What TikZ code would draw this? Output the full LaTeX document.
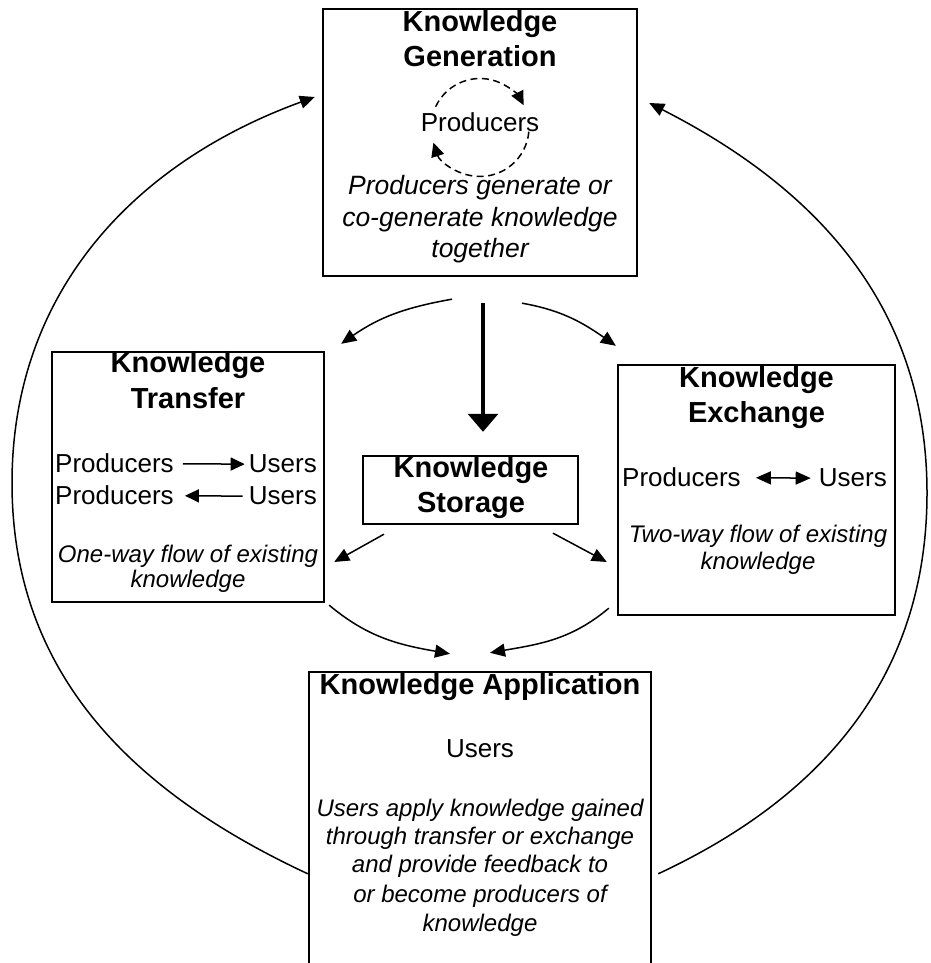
\documentclass[tikz,border=0pt]{standalone}
\usepackage{fontspec}
\setmainfont{Liberation Sans}
\usetikzlibrary{arrows.meta,calc}
\begin{document}
\begin{tikzpicture}[x=1pt,y=1pt,
  box/.style={draw, line width=2.4pt, inner sep=0pt},
  ttl/.style={anchor=base, inner sep=0pt, font=\fontsize{29}{35}\selectfont\bfseries},
  reg/.style={anchor=base, inner sep=0pt, font=\fontsize{26}{31}\selectfont},
  regw/.style={anchor=base west, inner sep=0pt, font=\fontsize{26}{31}\selectfont},
  rege/.style={anchor=base east, inner sep=0pt, font=\fontsize{26}{31}\selectfont},
  itl/.style={anchor=base, inner sep=0pt, font=\fontsize{24}{29}\selectfont\itshape},
  itg/.style={anchor=base, inner sep=0pt, font=\fontsize{26.5}{31.5}\selectfont\itshape},
  con/.style={line width=1.5pt, -{Triangle[length=15pt,width=13pt]}},
  small/.style={line width=1.5pt, -{Triangle[length=14pt,width=13pt]}},
]
\useasboundingbox (0,0) rectangle (930,963);
\fill[white] (0,0) rectangle (930,963);

% boxes
\node[box, minimum width=314pt, minimum height=267pt] (gen) at (480,820.5) {};
\node[box, minimum width=272pt, minimum height=250pt] (tra) at (188,486) {};
\node[box, minimum width=277pt, minimum height=250pt] (exc) at (756.5,473) {};
\node[box, minimum width=215pt, minimum height=68pt] (sto) at (470.5,473) {};
\node[box, minimum width=342pt, minimum height=306pt] (app) at (480,138) {};

% generation texts
\node[ttl] (g1) at (480,931) {Knowledge};
\node[ttl] (g2) at (480,896) {Generation};
\node[reg] (gp) at (480,831) {Producers};
\coordinate (gc) at (480,835.5);
\node[itg] (gi1) at (480,768) {Producers generate or};
\node[itg] (gi2) at (480,736.5) {co-generate knowledge};
\node[itg] (gi3) at (480,705) {together};
\draw[line width=1.5pt, dash pattern=on 7pt off 4.5pt, -{Triangle[length=14pt,width=13pt]}]
  ([shift={(155:49)}]gc) arc[start angle=155, end angle=27, radius=49];
\draw[line width=1.5pt, dash pattern=on 7pt off 4.5pt, -{Triangle[length=14pt,width=13pt]}]
  ([shift={(-5:49)}]gc) arc[start angle=-5, end angle=-162, radius=49];

% transfer texts
\node[ttl] (t1) at (188,590) {Knowledge};
\node[ttl] (t2) at (188,554) {Transfer};
\node[regw] (tp1) at (55,490) {Producers};
\node[rege] (tu1) at (317,490) {Users};
\node[regw] (tp2) at (55,458) {Producers};
\node[rege] (tu2) at (317,458) {Users};
\draw[small, shorten <=9pt, shorten >=4pt] (tp1.east) -- (tu1.west);
\draw[small, shorten <=6pt, shorten >=11pt] (tu2.west) -- (tp2.east);
\node[itl] (ti1) at (188,400) {One-way flow of existing};
\node[itl] (ti2) at (188,375) {knowledge};

% exchange texts
\node[ttl] (e1) at (756.5,575) {Knowledge};
\node[ttl] (e2) at (756.5,540) {Exchange};
\node[regw] (ep) at (622,476) {Producers};
\node[rege] (eu) at (887,476) {Users};
\draw[line width=1.5pt, {Triangle[length=15pt,width=13pt]}-{Triangle[length=15pt,width=13pt]}, shorten <=15pt, shorten >=8pt] (ep.east) -- (eu.west);
\node[itl] (ei1) at (758,420) {Two-way flow of existing};
\node[itl] (ei2) at (758,393) {knowledge};

% storage texts
\node[ttl] (s1) at (471,485) {Knowledge};
\node[ttl] (s2) at (471,450) {Storage};

% application texts
\node[ttl] (a1) at (480,268) {Knowledge Application};
\node[reg] (au) at (480,205) {Users};
\node[itl] (ai1) at (480,146) {Users apply knowledge gained};
\node[itl] (ai2) at (480,118) {through transfer or exchange};
\node[itl] (ai3) at (480,90) {and provide feedback to};
\node[itl] (ai4) at (480,60.5) {or become producers of};
\node[itl] (ai5) at (480,31) {knowledge};

% connectors
\draw[line width=3.2pt, -{Triangle[length=18pt,width=30pt]}]
  ($(gen.south)+(3,-26)$) -- ($(sto.north)+(12.5,23)$);
\draw[con] ($(gen.south)+(-28,-22)$) to[out=190,in=35] ($(tra.north east)+(16,7)$);
\draw[con] ($(gen.south)+(42,-26)$) to[out=-10,in=145] ($(exc.north west)+(-1,18)$);
\draw[con] ($(sto.south)+(-86.5,-9)$) -- ($(tra.east)+(9,-85)$);
\draw[con] ($(sto.south)+(82.5,-8)$) -- ($(exc.west)+(-10,-72)$);
\draw[con] ($(tra.south east)+(4,-2)$) to[out=-40,in=170] ($(app.north)+(-30,17)$);
\draw[con] ($(exc.south west)+(-8,8)$) to[out=220,in=10] ($(app.north)+(10,18)$);

\coordinate (lft) at (12,480);
\coordinate (rgt) at (927,470);
\draw[con] ($(app.north west)+(0,-203)$) to[out=155,in=-90] (lft) to[out=90,in=200] ($(gen.west)+(-7,45.5)$);
\draw[con] ($(app.north east)+(6,-203)$) to[out=25,in=-90] (rgt) to[out=90,in=-27] ($(gen.east)+(11,39.5)$);
\end{tikzpicture}
\end{document}
